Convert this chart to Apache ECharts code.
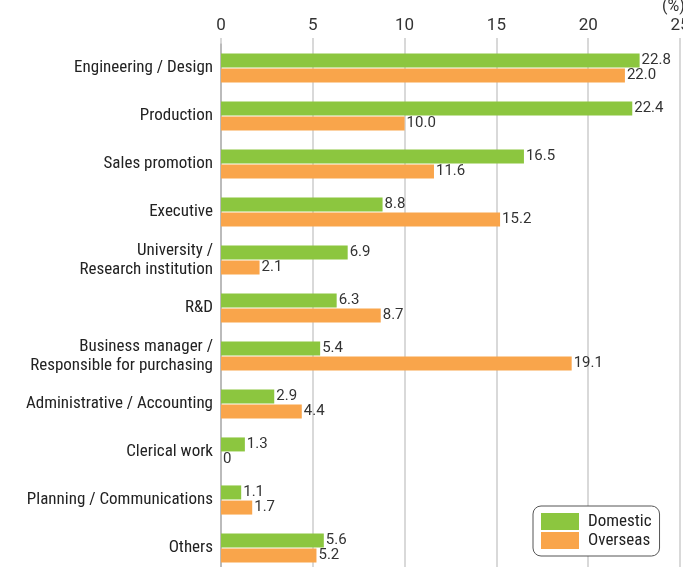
<!DOCTYPE html>
<html>
<head>
<meta charset="utf-8">
<script src="https://cdn.jsdelivr.net/npm/echarts@6/dist/echarts.min.js"></script>
<style>
  html, body { margin: 0; padding: 0; background: #fff; }
  #chart { width: 683px; height: 567px; }
</style>
</head>
<body>
<div id="chart"></div>
<script>
"use strict";

// job categories, top → bottom
const CATEGORIES = [
  "Engineering / Design",
  "Production",
  "Sales promotion",
  "Executive",
  "University /\nResearch institution",
  "R&D",
  "Business manager /\nResponsible for purchasing",
  "Administrative / Accounting",
  "Clerical work",
  "Planning / Communications",
  "Others",
];
const DOMESTIC = [22.8, 22.4, 16.5, 8.8, 6.9, 6.3, 5.4, 2.9, 1.3, 1.1, 5.6];
const OVERSEAS = [22.0, 10.0, 11.6, 15.2, 2.1, 8.7, 19.1, 4.4, 0, 1.7, 5.2];
const X_TICKS = [0, 5, 10, 15, 20, 25];

const NARROW = "'Roboto Condensed', Roboto, sans-serif";
const GREEN = "#8cc63f";
const ORANGE = "#f9a54b";

const fmtVal = v => (v === 0 ? "0" : v.toFixed(1));

function barSeries(name, data, color) {
  return {
    name, type: "bar", data,
    barWidth: 14, barGap: "8%",
    itemStyle: { color },
    label: {
      show: true, position: "right", distance: 2,
      color: "#333", fontSize: 15, fontFamily: "Roboto",
      formatter: p => fmtVal(p.value),
    },
    emphasis: { disabled: true },
  };
}

const chart = echarts.init(document.getElementById("chart"));
chart.setOption({
  animation: false,
  grid: { left: 221, right: 3, top: 44, height: 528, outerBoundsMode: "none", containLabel: false },
  xAxis: {
    type: "value", position: "top",
    min: X_TICKS[0], max: X_TICKS[X_TICKS.length - 1], interval: 5,
    axisLine: { show: false },
    axisTick: { show: true, length: 6, lineStyle: { color: "#ccc", width: 1.5 } },
    axisLabel: { margin: 10, color: "#333", fontSize: 17, fontFamily: "Roboto" },
    splitLine: { lineStyle: { color: "#ccc", width: 1.5 } },
  },
  yAxis: {
    type: "category", inverse: true, data: CATEGORIES,
    axisLine: { lineStyle: { color: "#bbb", width: 2 } },
    axisTick: { show: false },
    axisLabel: {
      margin: 8, color: "#222", fontSize: 17, lineHeight: 19,
      fontFamily: NARROW, align: "right",
    },
  },
  legend: {
    orient: "vertical", left: 533, top: 506,
    padding: [7, 8, 7, 8], itemGap: 2,
    itemWidth: 38, itemHeight: 17, icon: "rect",
    backgroundColor: "#fff", borderColor: "#555", borderWidth: 1, borderRadius: 8,
    textStyle: { fontSize: 17, fontFamily: NARROW, color: "#222", padding: [0, 0, 0, 4] },
    data: ["Domestic", "Overseas"],
  },
  graphic: [
    { type: "text", left: 662, top: -1, style: { text: "(%)", fontSize: 16, fontFamily: "Roboto", fill: "#333" } },
  ],
  series: [
    barSeries("Domestic", DOMESTIC, GREEN),
    barSeries("Overseas", OVERSEAS, ORANGE),
  ],
});
</script>
</body>
</html>
